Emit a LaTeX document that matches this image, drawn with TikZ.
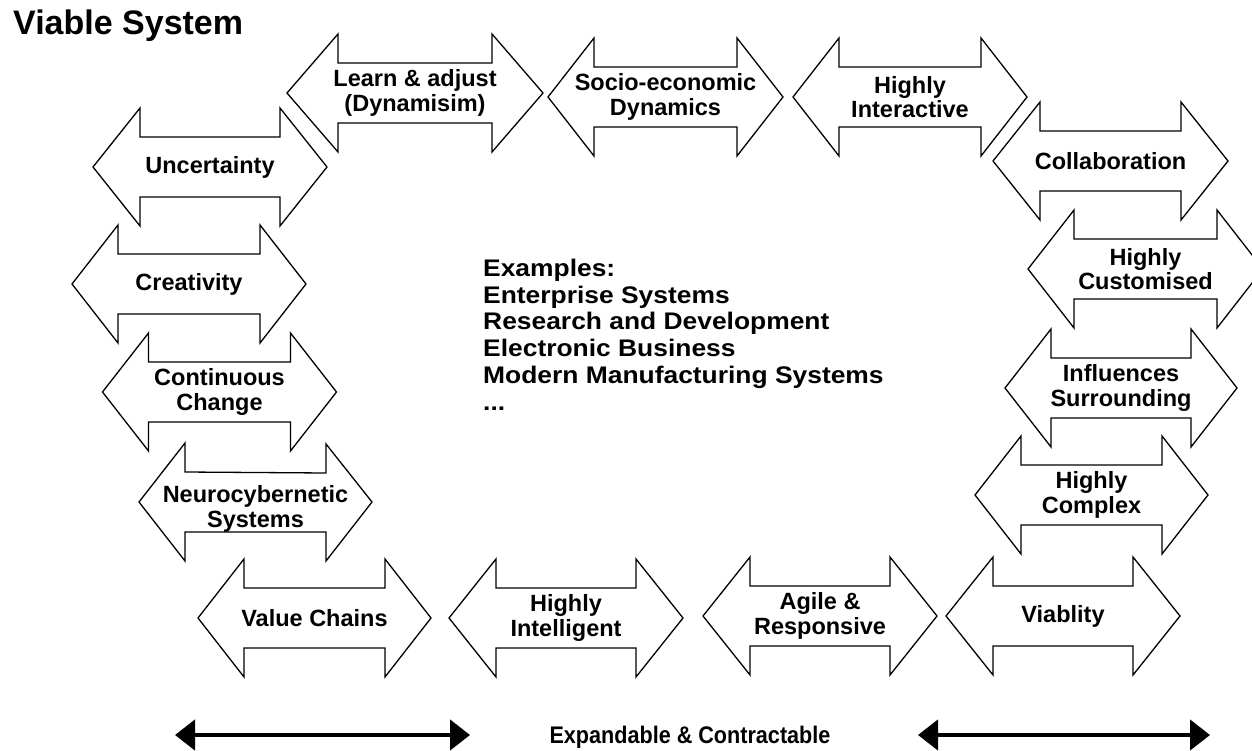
\documentclass[tikz,border=0pt]{standalone}
\usepackage{fontspec}
\setmainfont{Liberation Sans}
\newfontfamily\exfont[FakeStretch=1.10]{Liberation Sans}
\newfontfamily\capfont[FakeStretch=0.90]{Liberation Sans}
\usetikzlibrary{arrows.meta}

\tikzset{
  arrowline/.style={draw=black, line width=1.3pt, line join=miter},
  lbl/.style={font=\fontsize{23.5}{24.5}\selectfont\bfseries, align=center, inner sep=0pt},
  spanarrow/.style={line width=4.5pt,
    {Triangle[length=20pt,width=30pt]}-{Triangle[length=20pt,width=30pt]}},
}

% block double arrow: name, centre x, centre y, half length, head length, label
\newcommand{\dblarrow}[6]{%
  \draw[arrowline] ({#2-#4},#3) -- ++(#5,-59) -- ++(0,29)
    -- ({#2+#4-#5},{#3-30}) -- ++(0,-29) -- ({#2+#4},#3)
    -- ++({-#5},59) -- ++(0,-29) -- ({#2-#4+#5},{#3+30}) -- ++(0,29) -- cycle;
  \node[lbl] (#1) at (#2,#3) {#6};}

\begin{document}
\begin{tikzpicture}[x=1pt,y=-1pt]
  \useasboundingbox (0,0) rectangle (1252,751);
  \fill[white] (0,0) rectangle (1252,751);
  \clip (0,0) rectangle (1252,751);

  \node[anchor=base west, inner sep=0pt, font=\fontsize{34}{40}\selectfont\bfseries]
    (title) at (13,35) {Viable System};

  % top row
  \dblarrow{learn}{415}{93}{128}{51}{Learn \& adjust\\(Dynamisim)}
  \dblarrow{socio}{665.5}{97}{117.5}{46}{Socio-economic\\Dynamics}
  \dblarrow{interactive}{910}{97}{117}{46}{Highly\\Interactive}

  % left column
  \dblarrow{uncertainty}{210}{167}{117}{47}{Uncertainty}
  \dblarrow{creativity}{189}{284}{117}{46}{Creativity}
  \dblarrow{continuous}{219.5}{392}{117}{46}{Continuous\\Change}
  \draw[arrowline] (139,502) -- ++(46,-59) -- ++(0,29) -- (326,473) -- ++(0,-29)
    -- (372,502) -- ++(-46,59) -- ++(0,-29) -- (185,532) -- ++(0,29) -- cycle;
  \node[lbl] (neuro) at (255.5,509) {Neurocybernetic\\Systems};

  % right column
  \dblarrow{collaboration}{1110.5}{161}{117.5}{47}{Collaboration}
  \dblarrow{customised}{1145.5}{269}{117.5}{46}{Highly\\Customised}
  \dblarrow{influences}{1121}{388}{116}{46}{Influences\\Surrounding}
  \dblarrow{complex}{1091.5}{495}{116.5}{46}{Highly\\Complex}

  % bottom row
  \dblarrow{value}{314.5}{618}{116.5}{46}{Value Chains}
  \dblarrow{intelligent}{566}{618}{117}{47}{Highly\\Intelligent}
  \dblarrow{agile}{820}{616}{117}{47}{Agile \&\\Responsive}
  \dblarrow{viablity}{1063}{616}{117}{47}{Viablity}

  % centre text
  \node[anchor=north west, inner sep=0pt, align=left,
        font=\exfont\bfseries\fontsize{24}{26.7}\selectfont] (examples) at (483,259)
    {Examples:\\Enterprise Systems\\Research and Development\\Electronic Business\\Modern Manufacturing Systems\\...};

  % expansion arrows
  \coordinate (sl1) at (175,735);
  \coordinate (sl2) at (470,735);
  \coordinate (sr1) at (918,735);
  \coordinate (sr2) at (1210,735);
  \draw[spanarrow] (sl1) -- (sl2);
  \draw[spanarrow] (sr1) -- (sr2);
  \node[anchor=base, inner sep=0pt, font=\capfont\bfseries\fontsize{24}{28}\selectfont]
    (span) at (690,743) {Expandable \& Contractable};
\end{tikzpicture}
\end{document}
